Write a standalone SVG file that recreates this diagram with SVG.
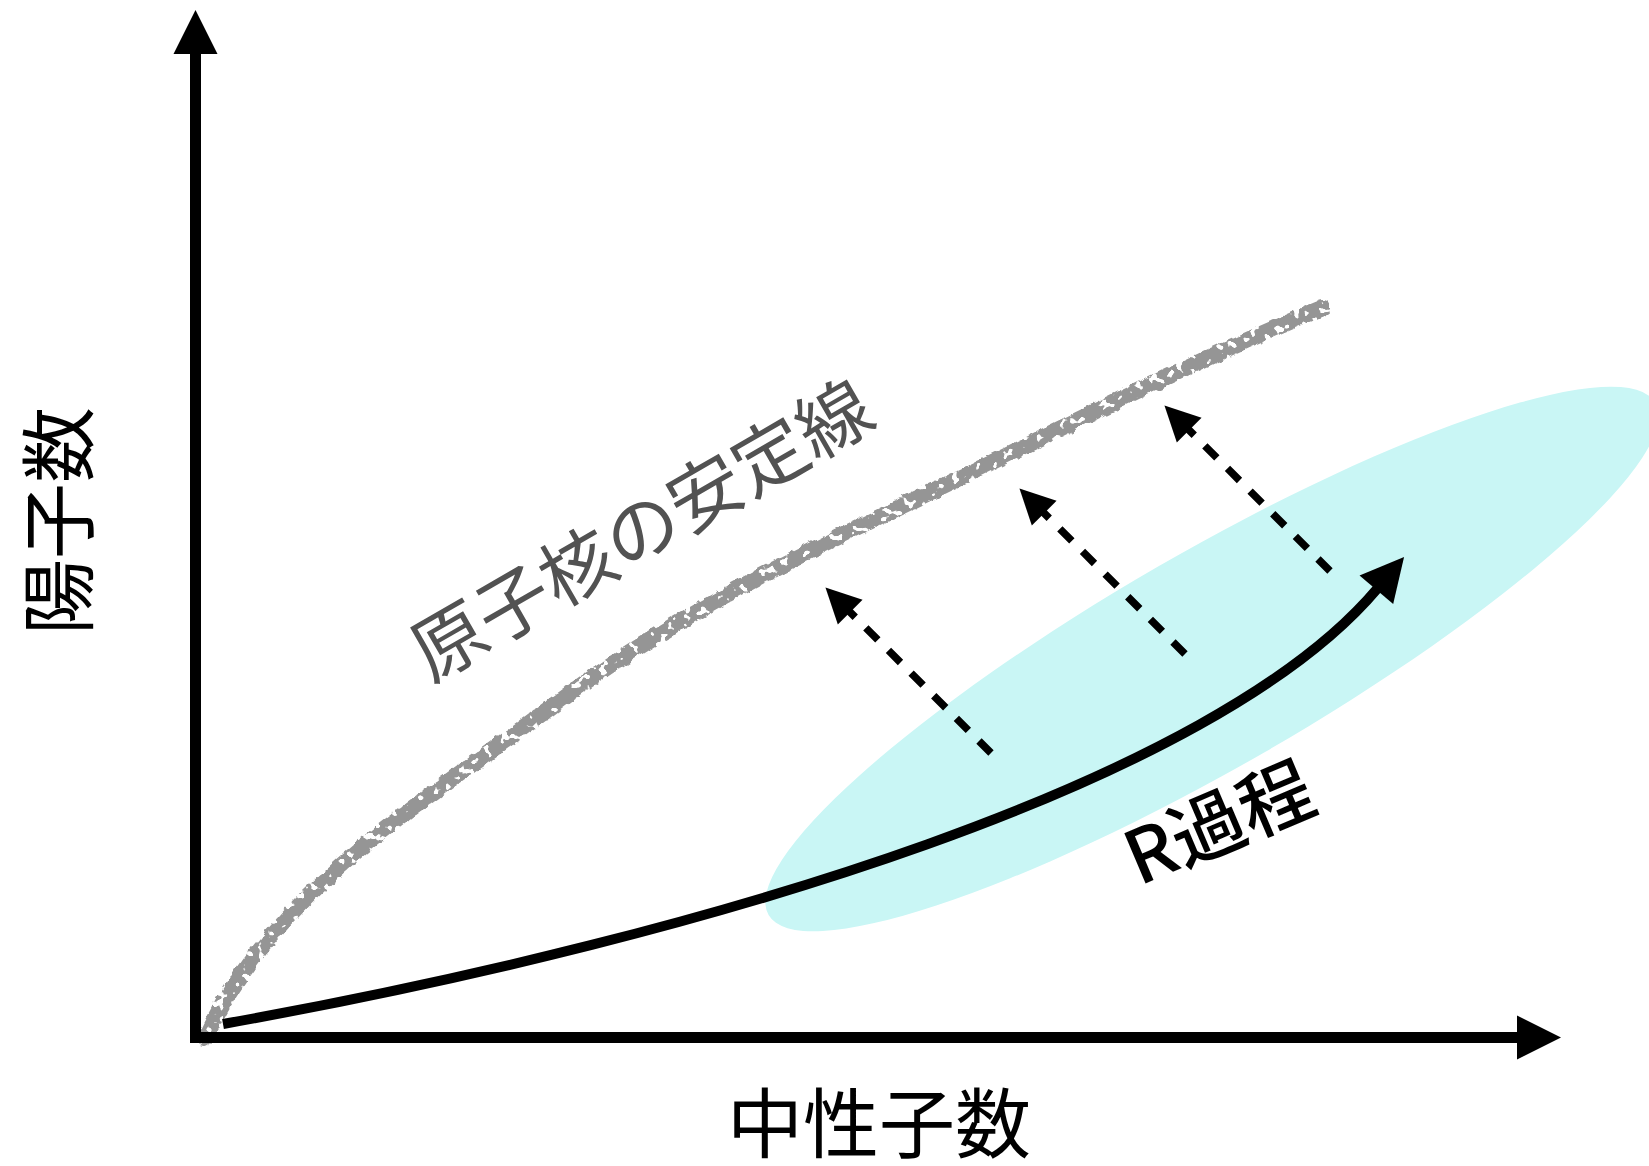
<svg xmlns="http://www.w3.org/2000/svg" width="1649" height="1166" viewBox="0 0 1649 1166">
  <defs>
    <style>
      .axis{fill:none;stroke:#000;stroke-width:11;stroke-linejoin:miter}
      .label{font-family:"Noto Sans CJK JP","Noto Sans CJK SC",sans-serif}
      .dash{fill:none;stroke:#000;stroke-width:7.5;stroke-dasharray:17 15}
      .rcurve{fill:none;stroke:#000;stroke-width:10;stroke-linecap:butt}
    </style>
    <marker id="axisHead" markerUnits="userSpaceOnUse" markerWidth="60" markerHeight="60" refX="1" refY="0" orient="auto-start-reverse" overflow="visible">
      <path d="M0,-22 L44,0 L0,22 Z" fill="#000"/>
    </marker>
    <marker id="rHead" markerUnits="userSpaceOnUse" markerWidth="60" markerHeight="60" refX="1" refY="0" orient="auto" overflow="visible">
      <path d="M0,-22 L43,0 L0,22 Z" fill="#000"/>
    </marker>
    <marker id="dashHead" markerUnits="userSpaceOnUse" markerWidth="50" markerHeight="50" refX="1" refY="0" orient="auto" overflow="visible">
      <path d="M0,-17.5 L35,0 L0,17.5 Z" fill="#000"/>
    </marker>
    <filter id="chalk" filterUnits="userSpaceOnUse" x="150" y="250" width="1250" height="850">
      <feTurbulence type="fractalNoise" baseFrequency="0.09" numOctaves="3" seed="3" result="noise"/>
      <feDisplacementMap in="SourceGraphic" in2="noise" scale="7" xChannelSelector="R" yChannelSelector="G" result="disp"/>
      <feTurbulence type="fractalNoise" baseFrequency="0.12" numOctaves="2" seed="11" result="fine"/>
      <feColorMatrix in="fine" type="matrix" values="0 0 0 0 0  0 0 0 0 0  0 0 0 0 0  -20 0 0 0 13.4" result="mask"/>
      <feComposite in="disp" in2="mask" operator="in"/>
    </filter>
  </defs>
  <rect width="1649" height="1166" fill="#fff"/>

  <g id="r-process-region">
    <ellipse cx="1212" cy="659" rx="512" ry="107" transform="rotate(-30 1212 659)" fill="#c9f6f5"/>
  </g>

  <g id="stability-line">
    <path d="M205,1038 C272,892 421,804 547,710 C665,621.5 782,563.6 900,507 C1040,440 1180,366 1322,308" fill="none" stroke="#959595" stroke-width="16" stroke-linecap="round" filter="url(#chalk)"/>
  </g>

  <g id="axes">
    <path class="axis" d="M195.5,53 V1037.5 H1518" marker-start="url(#axisHead)" marker-end="url(#axisHead)"/>
  </g>

  <g id="connectors">
    <path id="r-curve" class="rcurve" d="M223,1024 C723,934 1216,780 1377,589" marker-end="url(#rHead)"/>
    <path id="dash-arrow-1" class="dash" d="M991,753 L849.5,611.5" marker-end="url(#dashHead)"/>
    <path id="dash-arrow-2" class="dash" d="M1185,654 L1043.5,512.5" marker-end="url(#dashHead)"/>
    <path id="dash-arrow-3" class="dash" d="M1330,571 L1188.5,429.5" marker-end="url(#dashHead)"/>
  </g>

  <g id="labels">
    <text id="y-label" class="label" transform="translate(87,521) rotate(-90)" text-anchor="middle" font-size="76" fill="#000">陽子数</text>
    <text id="x-label" class="label" x="879" y="1152" text-anchor="middle" font-size="76" fill="#000">中性子数</text>
    <text id="stability-label" class="label" transform="translate(641,529) rotate(-30)" x="0" y="28" text-anchor="middle" font-size="74" fill="#525252">原子核の安定線</text>
    <text id="r-label" class="label" transform="translate(1219,823) rotate(-23)" x="0" y="27" text-anchor="middle" font-size="74" font-weight="500" fill="#000">R過程</text>
  </g>
</svg>
